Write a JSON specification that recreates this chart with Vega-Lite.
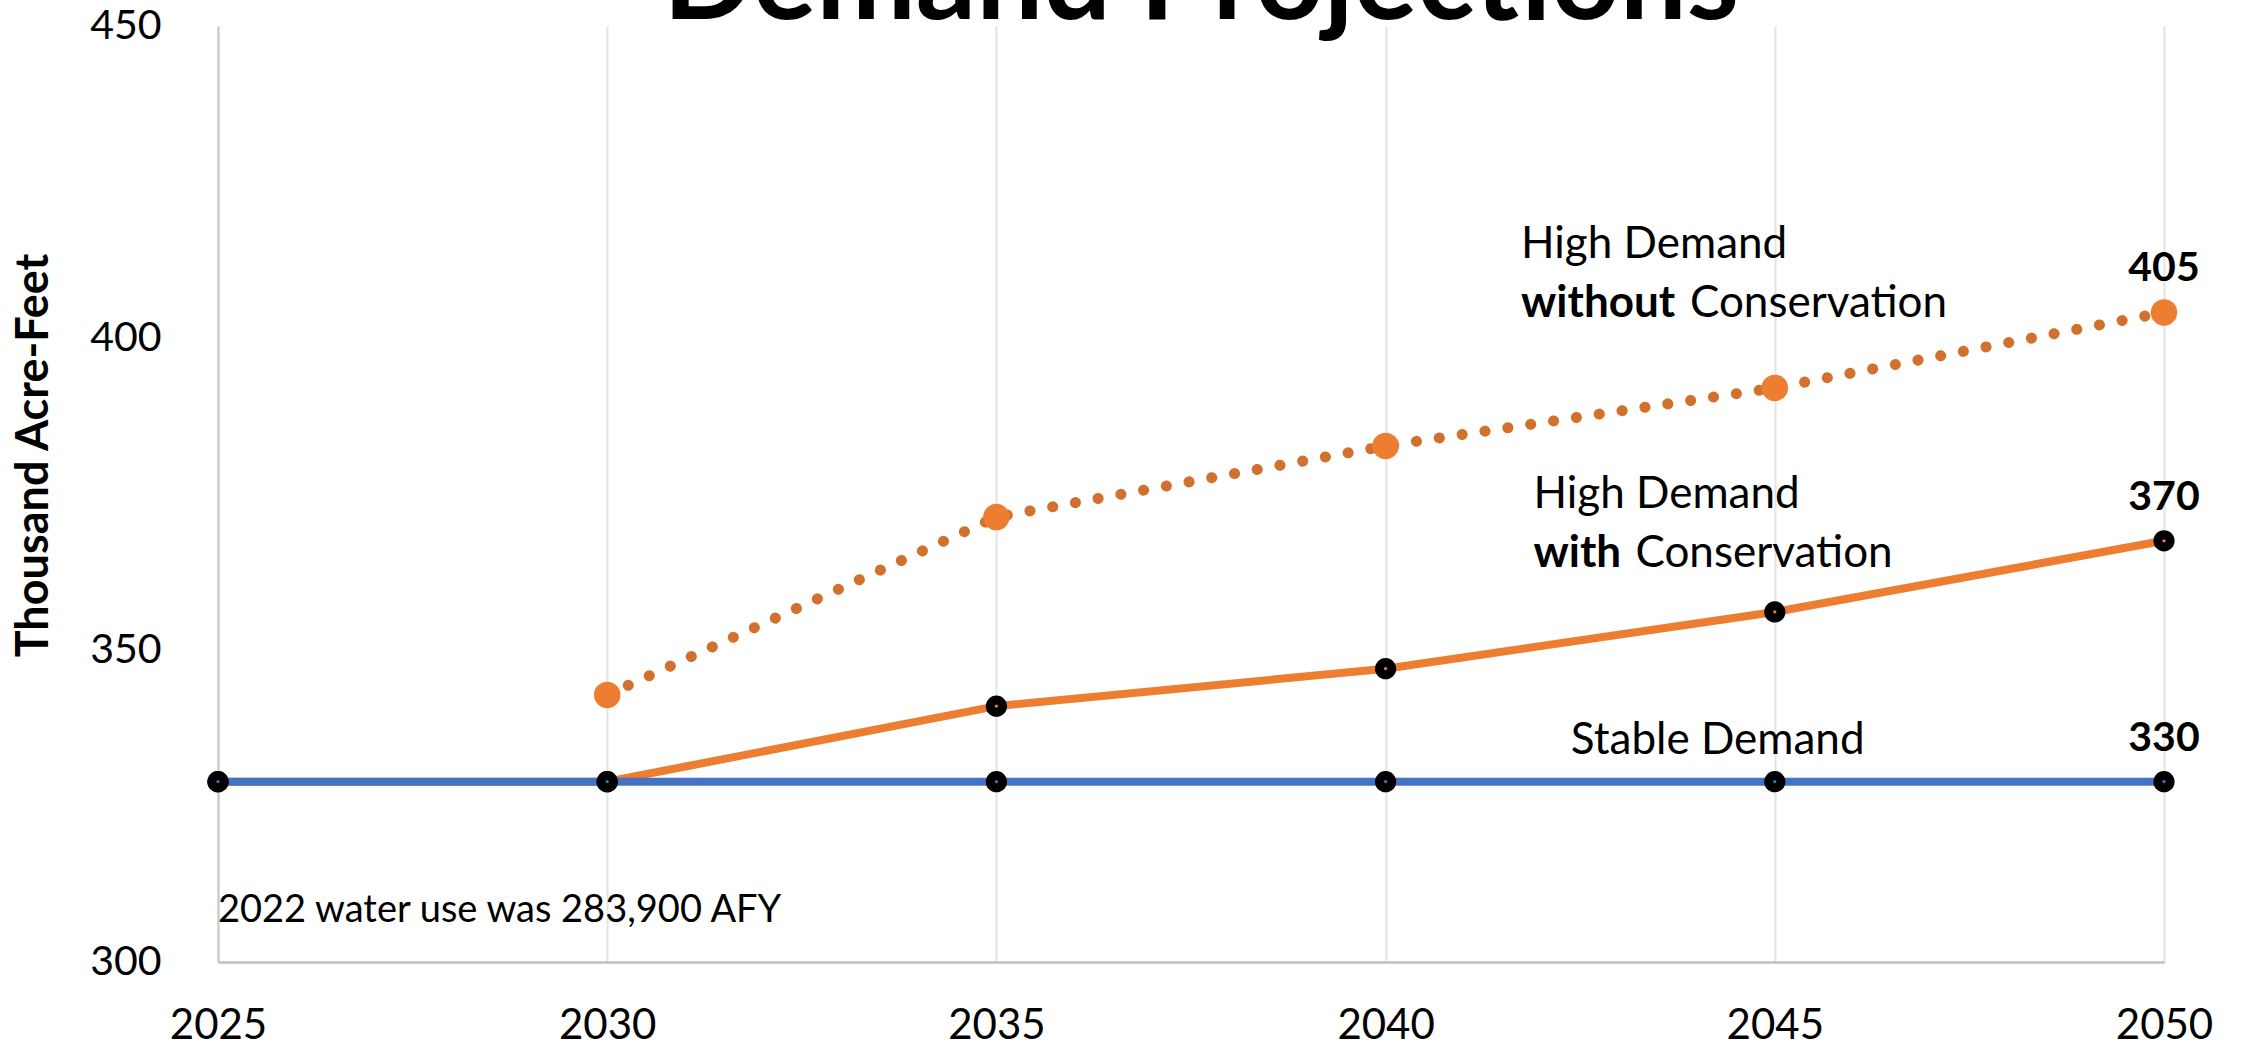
{
  "$schema": "https://vega.github.io/schema/vega-lite/v6.json",
  "width": 1946,
  "height": 936,
  "autosize": {"type": "none"},
  "padding": {"left": 218, "top": 26, "right": 77, "bottom": 85},
  "background": "white",
  "config": {"view": {"stroke": null}, "font": "Lato"},
  "title": {"text": "Demand Projections", "font": "Lato", "fontSize": 119, "fontWeight": "bold", "color": "black", "anchor": "middle", "baseline": "alphabetic", "offset": 0, "dx": 10, "dy": 133},
  "datasets": {
    "series": [
      {"year": 2025, "value": 328.9, "series": "Stable Demand"},
      {"year": 2030, "value": 328.9, "series": "Stable Demand"},
      {"year": 2035, "value": 328.9, "series": "Stable Demand"},
      {"year": 2040, "value": 328.9, "series": "Stable Demand"},
      {"year": 2045, "value": 328.9, "series": "Stable Demand"},
      {"year": 2050, "value": 328.9, "series": "Stable Demand", "label": "330"},
      {"year": 2025, "value": 328.9, "series": "High Demand with Conservation"},
      {"year": 2030, "value": 328.9, "series": "High Demand with Conservation"},
      {"year": 2035, "value": 341.0, "series": "High Demand with Conservation"},
      {"year": 2040, "value": 347.0, "series": "High Demand with Conservation"},
      {"year": 2045, "value": 356.1, "series": "High Demand with Conservation"},
      {"year": 2050, "value": 367.5, "series": "High Demand with Conservation", "label": "370"},
      {"year": 2030, "value": 342.8, "series": "High Demand without Conservation"},
      {"year": 2035, "value": 371.3, "series": "High Demand without Conservation"},
      {"year": 2040, "value": 382.7, "series": "High Demand without Conservation"},
      {"year": 2045, "value": 392.0, "series": "High Demand without Conservation"},
      {"year": 2050, "value": 404.1, "series": "High Demand without Conservation", "label": "405"}
    ],
    "notes": [
      {"year": 2041.74, "value": 412.8, "text": "High Demand"},
      {"year": 2043.91, "value": 403.4, "text": "Conservation"},
      {"year": 2041.9, "value": 372.7, "text": "High Demand"},
      {"year": 2043.21, "value": 363.3, "text": "Conservation"},
      {"year": 2042.38, "value": 333.3, "text": "Stable Demand"}
    ],
    "emph": [
      {"year": 2041.74, "value": 403.4, "text": "without"},
      {"year": 2041.9, "value": 363.3, "text": "with"}
    ],
    "foot": [
      {"year": 2025, "value": 306.4, "text": "2022 water use was 283,900 AFY"}
    ]
  },
  "encoding": {
    "x": {"field": "year", "type": "quantitative", "scale": {"domain": [2025, 2050], "nice": false, "zero": false},
      "axis": {"values": [2025, 2030, 2035, 2040, 2045, 2050], "format": "d", "grid": true, "gridColor": "#e3e3e3", "gridWidth": 2, "domainColor": "#bfbfbf", "domainWidth": 2.5, "ticks": false, "labelPadding": 43, "labelFontSize": 42, "labelFont": "Lato", "labelColor": "black", "labelFlush": false, "title": null}},
    "y": {"field": "value", "type": "quantitative", "scale": {"domain": [300, 450], "nice": false, "zero": false},
      "axis": {"values": [300, 350, 400, 450], "grid": false, "domainColor": "#c8c8c8", "domainWidth": 2, "ticks": false, "labelPadding": 57, "labelFontSize": 41, "labelFont": "Lato", "labelColor": "black", "labelFlush": false,
        "title": "Thousand Acre-Feet", "titleFont": "Lato", "titleFontSize": 45, "titleFontWeight": "bold", "titleColor": "black", "titleX": -185, "titleY": 429, "titleAngle": -90, "titleBaseline": "middle", "titleAlign": "center"}}
  },
  "layer": [
    {"data": {"name": "series"}, "transform": [{"filter": "datum.series === 'High Demand with Conservation'"}],
      "mark": {"type": "line", "color": "#ED7D31", "strokeWidth": 8}},
    {"data": {"name": "series"}, "transform": [{"filter": "datum.series === 'High Demand without Conservation'"}],
      "mark": {"type": "line", "color": "#D2702D", "strokeWidth": 11, "strokeCap": "round", "strokeDash": [0.1, 23]}},
    {"data": {"name": "series"}, "transform": [{"filter": "datum.series === 'Stable Demand'"}],
      "mark": {"type": "line", "color": "#4472C4", "strokeWidth": 8}},
    {"data": {"name": "series"}, "transform": [{"filter": "datum.series === 'High Demand with Conservation'"}],
      "mark": {"type": "point", "shape": "circle", "filled": true, "fill": "#ED7D31", "stroke": "black", "strokeWidth": 9, "size": 150, "opacity": 1}},
    {"data": {"name": "series"}, "transform": [{"filter": "datum.series === 'High Demand without Conservation'"}],
      "mark": {"type": "point", "shape": "circle", "filled": true, "fill": "#ED7D31", "strokeWidth": 0, "size": 700, "opacity": 1}},
    {"data": {"name": "series"}, "transform": [{"filter": "datum.series === 'Stable Demand'"}],
      "mark": {"type": "point", "shape": "circle", "filled": true, "fill": "#4472C4", "stroke": "black", "strokeWidth": 9, "size": 150, "opacity": 1}},
    {"data": {"name": "series"}, "transform": [{"filter": "datum.label != null"}],
      "mark": {"type": "text", "font": "Lato", "fontSize": 41, "fontWeight": "bold", "color": "black", "align": "center", "baseline": "alphabetic", "dy": -31},
      "encoding": {"text": {"field": "label"}}},
    {"data": {"name": "notes"},
      "mark": {"type": "text", "font": "Lato", "fontSize": 44, "color": "black", "align": "left", "baseline": "alphabetic"},
      "encoding": {"text": {"field": "text"}}},
    {"data": {"name": "emph"},
      "mark": {"type": "text", "font": "Lato", "fontSize": 44, "fontWeight": "bold", "color": "black", "align": "left", "baseline": "alphabetic"},
      "encoding": {"text": {"field": "text"}}},
    {"data": {"name": "foot"},
      "mark": {"type": "text", "font": "Lato", "fontSize": 38, "color": "black", "align": "left", "baseline": "alphabetic"},
      "encoding": {"text": {"field": "text"}}}
  ]
}
